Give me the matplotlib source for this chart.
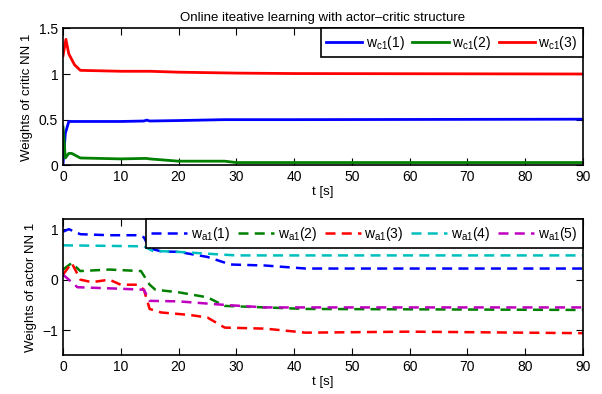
import numpy as np
import matplotlib.pyplot as plt

plt.rcParams['font.family'] = ['Liberation Sans', 'DejaVu Sans']
plt.rcParams['mathtext.fontset'] = 'custom'
plt.rcParams['mathtext.rm'] = 'Liberation Sans'
plt.rcParams['mathtext.it'] = 'Liberation Sans'

# critic weights (time [s], value)
t_c1 = [0, 0.4, 1.0, 1.5, 3, 10, 14, 14.5, 15, 20, 28, 30, 40, 90]
wc1_1 = [0.02, 0.35, 0.48, 0.48, 0.48, 0.48, 0.485, 0.495, 0.485, 0.49, 0.50, 0.50, 0.50, 0.505]
wc1_2 = [0.42, 0.08, 0.13, 0.13, 0.08, 0.07, 0.075, 0.075, 0.07, 0.045, 0.045, 0.03, 0.03, 0.03]
t_c3 = [0, 0.5, 1.0, 2.0, 3, 10, 15, 20, 30, 40, 90]
wc1_3 = [1.2, 1.38, 1.22, 1.10, 1.04, 1.03, 1.03, 1.02, 1.01, 1.005, 1.0]

# actor weights
t_a1 = [0, 1, 3, 8, 13, 14, 15, 17, 20, 25, 29, 35, 42, 90]
wa1_1 = [0.95, 1.0, 0.9, 0.88, 0.88, 0.84, 0.62, 0.56, 0.55, 0.45, 0.3, 0.28, 0.22, 0.22]
t_a2 = [0, 1.5, 3, 8, 13.5, 15, 16, 20, 25, 28, 35, 42, 90]
wa1_2 = [0.2, 0.33, 0.17, 0.2, 0.17, -0.1, -0.2, -0.25, -0.35, -0.52, -0.55, -0.58, -0.6]
t_a3 = [0, 1.5, 3, 5, 8, 10, 13, 14, 15, 17, 22, 25, 28, 35, 42, 60, 90]
wa1_3 = [0.1, 0.33, 0.0, -0.05, 0.0, -0.1, -0.1, -0.2, -0.58, -0.65, -0.7, -0.75, -0.95, -0.97,
         -1.05, -1.03, -1.06]
t_a4 = [0, 14, 15.5, 20, 27, 30, 90]
wa1_4 = [0.68, 0.66, 0.57, 0.55, 0.5, 0.48, 0.48]
t_a5 = [0, 1, 2.5, 10, 14, 15, 20, 28, 35, 90]
wa1_5 = [0.1, 0.0, -0.15, -0.18, -0.2, -0.42, -0.43, -0.5, -0.55, -0.55]

fs = 10
lfs = 9.5
fig = plt.figure(figsize=(6.02, 3.94), dpi=100)
ax1 = fig.add_axes([0.1047, 0.5805, 0.8633, 0.3475])
ax2 = fig.add_axes([0.1047, 0.098, 0.8633, 0.346])

leg_kw = dict(loc='upper right', fontsize=fs, handlelength=2.6, columnspacing=0.55,
              handletextpad=0.25, borderaxespad=0, borderpad=0.4, fancybox=False,
              framealpha=1, edgecolor='black')

ax1.plot(t_c1, wc1_1, color='#0000ff', lw=2, label=r'w$_{\mathrm{c1}}$(1)')
ax1.plot(t_c1, wc1_2, color='#008000', lw=2, label=r'w$_{\mathrm{c1}}$(2)')
ax1.plot(t_c3, wc1_3, color='#ff0000', lw=2, label=r'w$_{\mathrm{c1}}$(3)')
ax1.set_xlim(0, 90)
ax1.set_ylim(0, 1.5)
ax1.set_yticks([0, 0.5, 1, 1.5])
ax1.set_yticklabels(['0', '0.5', '1', '1.5'])
ax1.set_ylabel('Weights of critic NN 1', fontsize=lfs)
ax1.set_xlabel('t [s]', fontsize=lfs, labelpad=1)
ax1.set_title('Online iteative learning with actor\u2013critic structure', fontsize=lfs, pad=5)
leg1 = ax1.legend(ncol=3, **leg_kw)
leg1.get_frame().set_linewidth(1.2)

dash = (0, (4, 2.5))
ax2.plot(t_a1, wa1_1, color='#0000ff', lw=1.8, ls=dash, label=r'w$_{\mathrm{a1}}$(1)')
ax2.plot(t_a2, wa1_2, color='#008000', lw=1.8, ls=dash, label=r'w$_{\mathrm{a1}}$(2)')
ax2.plot(t_a3, wa1_3, color='#ff0000', lw=1.8, ls=dash, label=r'w$_{\mathrm{a1}}$(3)')
ax2.plot(t_a4, wa1_4, color='#00bfbf', lw=1.8, ls=dash, label=r'w$_{\mathrm{a1}}$(4)')
ax2.plot(t_a5, wa1_5, color='#bf00bf', lw=1.8, ls=dash, label=r'w$_{\mathrm{a1}}$(5)')
ax2.set_xlim(0, 90)
ax2.set_ylim(-1.5, 1.2)
ax2.set_yticks([-1, 0, 1])
ax2.set_yticklabels(['\u22121', '0', '1'])
ax2.set_ylabel('Weights of actor NN 1', fontsize=lfs)
ax2.set_xlabel('t [s]', fontsize=lfs, labelpad=1)
leg2 = ax2.legend(ncol=5, **leg_kw)
leg2.get_frame().set_linewidth(1.2)

for ax in (ax1, ax2):
    ax.set_xticks(range(0, 91, 10))
    ax.tick_params(direction='in', labelsize=fs, top=True, right=True, length=5, width=0.8)
    for s in ax.spines.values():
        s.set_linewidth(1.2)

fig.savefig('out.png', dpi=100)
